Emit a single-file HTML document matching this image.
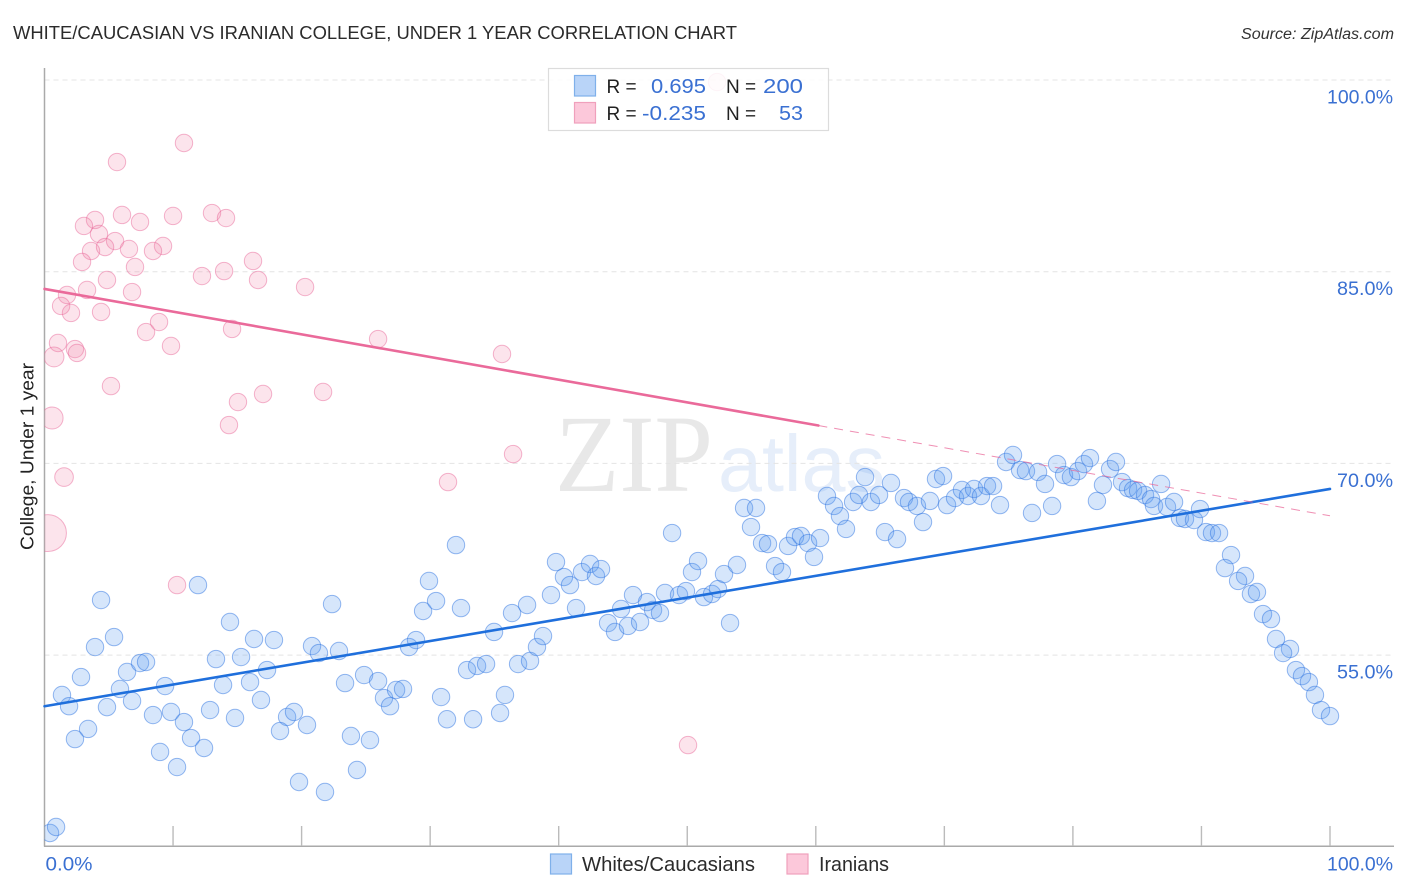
<!DOCTYPE html>
<html lang="en">
<head>
<meta charset="utf-8">
<title>White/Caucasian vs Iranian College, Under 1 Year Correlation Chart</title>
<style>
html,body{margin:0;padding:0;background:#fff;width:1406px;height:892px;overflow:hidden}
svg{display:block;font-family:"Liberation Sans",sans-serif}
</style>
</head>
<body>
<svg id="chart" xmlns="http://www.w3.org/2000/svg" width="1406" height="892" viewBox="0 0 1406 892">
<defs><clipPath id="plot-clip"><rect x="44.5" y="60" width="1362" height="786"/></clipPath></defs>
<text x="13" y="39" font-size="18.5" fill="#2b2b2b" textLength="724" lengthAdjust="spacingAndGlyphs">WHITE/CAUCASIAN VS IRANIAN COLLEGE, UNDER 1 YEAR CORRELATION CHART</text>
<text x="1241" y="39" font-size="15.5" font-style="italic" fill="#333" textLength="153" lengthAdjust="spacingAndGlyphs">Source: ZipAtlas.com</text>
<text transform="translate(33.5,550) rotate(-90)" font-size="18.5" fill="#222" textLength="187" lengthAdjust="spacingAndGlyphs">College, Under 1 year</text>
<g>
<text x="555" y="491" font-family="'Liberation Serif',serif" font-size="110" fill="#e8e8e8" textLength="158" lengthAdjust="spacingAndGlyphs">ZIP</text>
<text x="718" y="491" font-size="80" fill="#e6eefa" textLength="167" lengthAdjust="spacingAndGlyphs">atlas</text>
</g>
<g id="grid"></g>
<g id="axes"></g>
<g id="points" clip-path="url(#plot-clip)"></g>
<g id="trends"></g>
<g id="labels"></g>
<g>
<rect x="548.5" y="68.5" width="280" height="62" fill="#fff" fill-opacity="0.85" stroke="#dcdcdc" stroke-width="1.2"/>
<rect x="574.5" y="75.5" width="21" height="20.5" fill="#b9d4f8" stroke="#7fb0ea" stroke-width="1.2"/>
<rect x="574.5" y="102.5" width="21" height="20.5" fill="#fcc8da" stroke="#f0a0bc" stroke-width="1.2"/>
<text x="606.5" y="93" font-size="19" fill="#222">R =</text>
<text x="606.5" y="120" font-size="19" fill="#222">R =</text>
<text x="706" y="93" font-size="20.5" fill="#3a70d2" text-anchor="end" textLength="55" lengthAdjust="spacingAndGlyphs">0.695</text>
<text x="706" y="120" font-size="20.5" fill="#3a70d2" text-anchor="end" textLength="64" lengthAdjust="spacingAndGlyphs">-0.235</text>
<text x="726" y="93" font-size="19" fill="#222">N =</text>
<text x="726" y="120" font-size="19" fill="#222">N =</text>
<text x="803" y="93" font-size="20.5" fill="#3a70d2" text-anchor="end" textLength="40" lengthAdjust="spacingAndGlyphs">200</text>
<text x="803" y="120" font-size="20.5" fill="#3a70d2" text-anchor="end" textLength="24" lengthAdjust="spacingAndGlyphs">53</text>
</g>
<g>
<rect x="550.5" y="854" width="21" height="20" fill="#b9d4f8" stroke="#7fb0ea" stroke-width="1.2"/>
<text x="582" y="871" font-size="20" fill="#2b2b2b" textLength="173" lengthAdjust="spacingAndGlyphs">Whites/Caucasians</text>
<rect x="787" y="854" width="21" height="20" fill="#fcc8da" stroke="#f0a0bc" stroke-width="1.2"/>
<text x="819" y="871" font-size="20" fill="#2b2b2b" textLength="70" lengthAdjust="spacingAndGlyphs">Iranians</text>
</g>
</svg>
<script>
const yTickValues = [100, 85, 70, 55];
const yTickLabels = ["100.0%", "85.0%", "70.0%", "55.0%"];
const xTickValues = [10, 20, 30, 40, 50, 60, 70, 80, 90, 100];
const xEndValues = [0, 100];
const xEndLabels = ["0.0%", "100.0%"];

const whiteX = [0.43,0.9,1.36,1.91,2.84,3.93,5.41,3.39,2.37,4.86,5.87,6.81,6.42,7.43,7.9,8.44,9.38,9.84,10.85,11.4,12.41,8.99,10.31,13.34,13.89,12.88,14.82,15.29,14.43,16.3,17.85,15.99,17.31,16.84,18.87,19.41,18.32,20.42,19.8,21.82,20.81,21.35,22.91,23.38,23.84,24.31,4.4,22.37,11.94,24.86,25.95,26.41,26.88,27.35,27.89,25.32,28.36,28.9,29.45,29.91,30.46,30.85,31.31,32.01,32.4,32.87,33.34,33.65,34.35,34.97,35.44,35.82,36.37,36.84,37.54,37.77,38.31,38.78,39.4,39.79,40.41,40.88,41.35,41.81,42.44,42.9,43.29,43.84,44.38,44.85,45.39,45.78,46.33,46.87,47.34,47.88,48.27,48.82,49.36,49.9,50.37,50.84,51.3,51.93,52.39,52.86,53.87,53.33,54.42,55.35,54.96,55.82,56.28,56.83,57.37,57.84,58.38,58.85,59.4,59.86,60.33,60.87,61.42,61.88,62.35,62.9,63.36,63.83,64.29,64.92,65.85,65.38,66.32,66.86,67.25,67.87,68.34,68.88,69.35,69.9,70.21,70.83,71.37,71.84,72.31,72.85,73.32,73.79,74.33,74.8,75.34,75.89,76.35,77.29,77.83,76.82,78.38,78.77,79.31,79.85,80.4,80.86,81.33,82.34,81.87,82.89,83.35,83.82,84.29,84.68,85.07,85.61,86.08,86.31,86.86,87.32,87.87,88.33,88.72,89.42,89.89,90.35,90.82,91.37,92.3,91.83,93.39,92.85,93.85,94.32,94.79,95.41,95.8,96.89,96.35,97.35,97.82,98.36,98.83,99.3,100];
const whiteY = [41.08,41.55,51.88,51,53.28,55.63,56.41,49.22,48.43,50.93,52.35,51.41,53.68,54.38,54.46,50.31,52.58,50.55,49.76,48.51,47.73,47.42,46.24,54.69,52.66,50.7,50.08,54.85,57.59,56.26,56.18,52.89,53.83,51.49,50.16,50.55,49.06,49.53,45.07,44.29,55.71,55.16,55.32,52.81,48.67,46.01,59.31,58.99,60.48,53.44,52.97,51.64,51,52.27,52.35,48.35,55.63,56.18,58.45,60.8,59.23,51.72,49.98,63.61,58.68,53.83,49.98,54.15,54.3,56.81,50.47,51.88,58.29,54.3,58.92,54.54,55.63,56.49,59.7,62.28,61.11,60.48,58.68,61.5,62.13,61.19,61.73,57.51,56.81,58.61,57.28,59.7,57.59,59.15,58.53,58.29,59.86,64.55,59.7,60.01,61.5,62.36,59.54,59.78,60.17,61.34,62.05,57.51,66.51,66.51,65.02,63.77,63.69,61.97,61.5,63.54,64.24,64.32,63.77,62.68,64.16,67.45,66.67,65.88,64.87,66.98,67.53,68.93,66.98,67.53,68.47,64.63,64.08,67.29,66.98,66.67,65.41,67.06,68.78,69.01,66.74,67.29,67.92,67.45,68,67.45,68.23,68.23,66.74,70.11,70.66,69.48,69.4,69.33,68.39,66.12,66.67,69.95,69.09,68.93,69.4,69.95,70.42,68.31,67.06,69.56,70.11,68.54,68.07,67.92,67.84,67.53,67.21,66.67,68.39,66.59,66.98,65.73,65.65,65.57,66.43,64.63,64.55,64.55,62.83,61.81,61.19,60.8,59.78,59.94,58.21,57.82,56.26,55.48,55.16,53.83,53.36,52.89,51.88,50.7,50.23];

const iranX = [10.85,5.64,3.93,6.03,10,13.03,14.12,7.43,3.07,4.24,5.49,3.62,4.71,6.57,9.22,8.44,2.92,7.04,16.22,13.97,12.25,16.61,20.27,4.86,3.31,6.81,1.75,1.29,2.06,4.4,8.91,7.9,14.59,9.84,1.05,2.37,2.53,0.74,25.95,35.59,5.17,17,21.67,15.05,0.59,14.35,36.45,1.52,31.39,0.27,10.31,50.06,52.32];
const iranY = [95.07,93.58,89.05,89.44,89.36,89.59,89.2,88.89,88.58,87.95,87.4,86.62,86.93,86.78,87.01,86.62,85.76,85.37,85.84,85.05,84.66,84.35,83.8,84.35,83.57,83.41,83.18,82.32,81.77,81.85,81.06,80.28,80.52,79.19,79.42,78.95,78.64,78.33,79.73,78.56,76.05,75.43,75.59,74.8,73.55,73,70.73,68.93,68.54,64.55,60.48,47.96,99.84];
const iranWeight = [1,1,1,1,1,1,1,1,1,1,1,1,1,1,1,1,1,1,1,1,1,1,1,1,1,1,1,1,1,1,1,1,1,1,1,1,1,1.3,1,1,1,1,1,1,1.6,1,1,1.15,1,4.5,1,1,1];

const whiteTrendEnds = [51.0, 68.0];
const iranTrendEnds = [83.65, 65.9];
const iranSolidUntil = 60.2;

const NS = "http://www.w3.org/2000/svg";
function xScale(v) { return 44.5 + v * 12.855; }
function yScale(v) { return 80 + (100 - v) * 12.78; }
function trendValue(ends, x) { return ends[0] + (ends[1] - ends[0]) * x / 100; }
function make(tag, parentId, attrs, txt) {
  const el = document.createElementNS(NS, tag);
  for (const k in attrs) el.setAttribute(k, attrs[k]);
  if (txt !== undefined) el.textContent = txt;
  document.getElementById(parentId).appendChild(el);
  return el;
}

yTickValues.forEach(function (v, i) {
  const line = make("line", "grid", { x1: 44.5, x2: 1394, y1: yScale(v), y2: yScale(v), stroke: "#e4e4e4", "stroke-width": 1, "stroke-dasharray": "5 4" });
  
  
  const lab = make("text", "labels", { x: 1393, y: yScale(v) + 23.5, "font-size": 19, fill: "#3a70d2", "text-anchor": "end", textLength: i === 0 ? 66 : 56, lengthAdjust: "spacingAndGlyphs" }, yTickLabels[i]);
  
  
});

const yAxisLine = make("line", "axes", { x1: 44.5, x2: 44.5, y1: 68, y2: 846.5, stroke: "#aaa", "stroke-width": 1.5 });


const xAxisLine = make("line", "axes", { x1: 44, x2: 1394, y1: 846.2, y2: 846.2, stroke: "#aaa", "stroke-width": 1.5 });



xTickValues.forEach(function (v) {
  const tick = make("line", "axes", { x1: xScale(v), x2: xScale(v), y1: 826, y2: 846, stroke: "#bbb", "stroke-width": 1.4 });
  
  
});

xEndValues.forEach(function (v, i) {
  const isFirst = i === 0;
  const lab = make("text", "labels", { x: isFirst ? xScale(v) + 1 : 1393, y: 870.5, "font-size": 19, fill: "#3a70d2", "text-anchor": isFirst ? "start" : "end", textLength: isFirst ? 47 : 66, lengthAdjust: "spacingAndGlyphs" }, xEndLabels[i]);
  
  
});

iranX.forEach(function (x, i) {
  const c = make("circle", "points", { cx: xScale(x), cy: yScale(iranY[i]), r: 8.7 * Math.sqrt(iranWeight[i]), fill: "rgba(243,130,170,0.22)", stroke: "rgba(232,100,150,0.48)", "stroke-width": 1 });
  
  
});

whiteX.forEach(function (x, i) {
  const c = make("circle", "points", { cx: xScale(x), cy: yScale(whiteY[i]), r: 8.7, fill: "rgba(90,155,240,0.25)", stroke: "rgba(45,115,225,0.5)", "stroke-width": 1 });
  
  
});

const whiteTrend = make("line", "trends", { x1: xScale(0), y1: yScale(whiteTrendEnds[0]), x2: xScale(100), y2: yScale(whiteTrendEnds[1]), stroke: "#1f6fdc", "stroke-width": 2.6, "stroke-linecap": "round" });



const iranTrend = make("line", "trends", { x1: xScale(0), y1: yScale(iranTrendEnds[0]), x2: xScale(iranSolidUntil), y2: yScale(trendValue(iranTrendEnds, iranSolidUntil)), stroke: "#ea6a9a", "stroke-width": 2.6, "stroke-linecap": "round" });



const iranDash = make("line", "trends", { x1: xScale(iranSolidUntil), y1: yScale(trendValue(iranTrendEnds, iranSolidUntil)), x2: xScale(100), y2: yScale(iranTrendEnds[1]), stroke: "#ea6a9a", "stroke-width": 1, "stroke-dasharray": "9 7", "stroke-opacity": 0.75 });


</script>
</body>
</html>
